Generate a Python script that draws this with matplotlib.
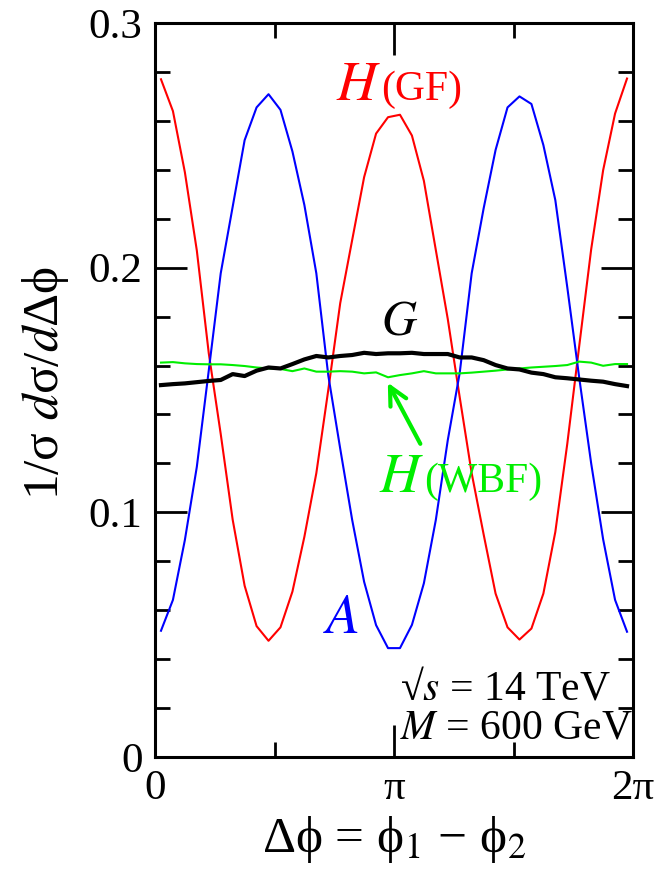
import matplotlib
matplotlib.use("Agg")
import matplotlib.pyplot as plt
import numpy as np
from matplotlib.ticker import MultipleLocator, FixedLocator

plt.rcParams['font.family'] = ['Liberation Serif', 'DejaVu Serif']
plt.rcParams['mathtext.fontset'] = 'stix'

# 40 bins in delta phi, 0..2pi
n_bins = 40
phi = (np.arange(n_bins) + 0.5) * 2 * np.pi / n_bins

h_gf = [0.277, 0.264, 0.239, 0.207, 0.165, 0.132, 0.097, 0.070, 0.0535, 0.0475,
        0.053, 0.0676, 0.090, 0.116, 0.150, 0.1855, 0.2113, 0.237, 0.2548, 0.2615,
        0.2625, 0.254, 0.2355, 0.2072, 0.179, 0.147, 0.116, 0.091, 0.0668, 0.053,
        0.048, 0.0525, 0.0668, 0.092, 0.128, 0.168, 0.2075, 0.2398, 0.263, 0.2773]

a_odd = [0.0516, 0.0642, 0.0887, 0.1186, 0.158, 0.1977, 0.2249, 0.2521, 0.2655, 0.2709,
         0.2645, 0.2475, 0.2256, 0.1977, 0.156, 0.126, 0.0969, 0.0716, 0.0539, 0.0445,
         0.0445, 0.054, 0.071, 0.0969, 0.1295, 0.157, 0.1977, 0.2242, 0.2481, 0.2655,
         0.270, 0.2669, 0.2501, 0.2276, 0.192, 0.155, 0.120, 0.089, 0.0642, 0.0512]

g_grav = [0.1520, 0.1524, 0.1527, 0.1532, 0.1537, 0.1541, 0.1565, 0.1557, 0.1579, 0.1592,
          0.1588, 0.1606, 0.1625, 0.1639, 0.1633, 0.1639, 0.1643, 0.1652, 0.1647, 0.1650,
          0.1650, 0.1652, 0.1647, 0.1647, 0.1647, 0.1633, 0.1633, 0.1622, 0.1602, 0.1588,
          0.1584, 0.1571, 0.1565, 0.1552, 0.1548, 0.1543, 0.1538, 0.1534, 0.1524, 0.1516]

h_wbf = [0.1612, 0.1614, 0.1609, 0.1606, 0.1605, 0.1605, 0.1602, 0.1598, 0.1592, 0.1588,
         0.1586, 0.1577, 0.1588, 0.1575, 0.1575, 0.1577, 0.1575, 0.1568, 0.1572, 0.1552,
         0.1561, 0.1568, 0.1577, 0.1568, 0.1568, 0.1568, 0.1571, 0.1575, 0.1579, 0.1584,
         0.1588, 0.1592, 0.1595, 0.1598, 0.1602, 0.1616, 0.1612, 0.1599, 0.1606, 0.1606]

x_major = [0, np.pi, 2*np.pi]
x_labels = ['0', 'π', '2π']
y_major = [0, 0.1, 0.2, 0.3]
y_labels = ['0', '0.1', '0.2', '0.3']

RED, BLUE, GREEN = '#ff0000', '#0000ff', '#00ee00'

fig = plt.figure(figsize=(6.61, 8.74), dpi=100)
ax = fig.add_axes([155/661, 117/874, 478/661, 734/874])

ax.plot(phi, h_gf, color=RED, lw=1.5)
ax.plot(phi, a_odd, color=BLUE, lw=1.5)
ax.plot(phi, h_wbf, color=GREEN, lw=1.5)
ax.plot(phi, g_grav, color='black', lw=3.0)

ax.set_xlim(0, 2*np.pi)
ax.set_ylim(0, 0.3)

ax.set_xticks(x_major)
ax.set_xticklabels(x_labels)
ax.xaxis.set_minor_locator(FixedLocator([np.pi/2, 3*np.pi/2]))
ax.set_yticks(y_major)
ax.set_yticklabels(y_labels)
ax.yaxis.set_minor_locator(MultipleLocator(0.02))

ax.tick_params(which='both', direction='in', top=True, right=True, width=2, labelsize=31)
ax.tick_params(which='major', length=23, pad=9)
ax.tick_params(which='minor', length=11)
for s in ax.spines.values():
    s.set_linewidth(2.2)

ax.set_xlabel('Δϕ = ϕ$_1$ − ϕ$_2$', fontsize=37, labelpad=4)
ax.set_ylabel('1/σ $d$σ/$d$Δϕ', fontsize=37)
ax.yaxis.set_label_coords(-0.175, 0.51)

# curve labels: big italic letter + smaller upright suffix
ax.text(2.971, 0.2685, '$H$', color=RED, fontsize=40, ha='right', va='baseline')
ax.text(2.971, 0.2685, '(GF)', color=RED, fontsize=30, ha='left', va='baseline')
ax.text(3.22, 0.1725, '$G$', color='black', fontsize=35, ha='center', va='baseline')
ax.text(2.445, 0.0507, '$A$', color=BLUE, fontsize=40, ha='center', va='baseline')
ax.text(3.536, 0.1083, '$H$', color=GREEN, fontsize=40, ha='right', va='baseline')
ax.text(3.536, 0.1083, '(WBF)', color=GREEN, fontsize=30, ha='left', va='baseline')
ax.annotate('', xy=(phi[19] - 0.02, h_wbf[19] - 0.0012), xytext=(3.505, 0.127),
            arrowprops=dict(arrowstyle='->', color=GREEN, lw=3,
                            mutation_scale=32))

ax.text(0.513, 0.078, '√$s$ = 14 TeV', transform=ax.transAxes,
        fontsize=30, ha='left', va='baseline')
ax.text(0.513, 0.025, '$M$ = 600 GeV', transform=ax.transAxes,
        fontsize=30, ha='left', va='baseline')

fig.savefig('out.png', dpi=100)
